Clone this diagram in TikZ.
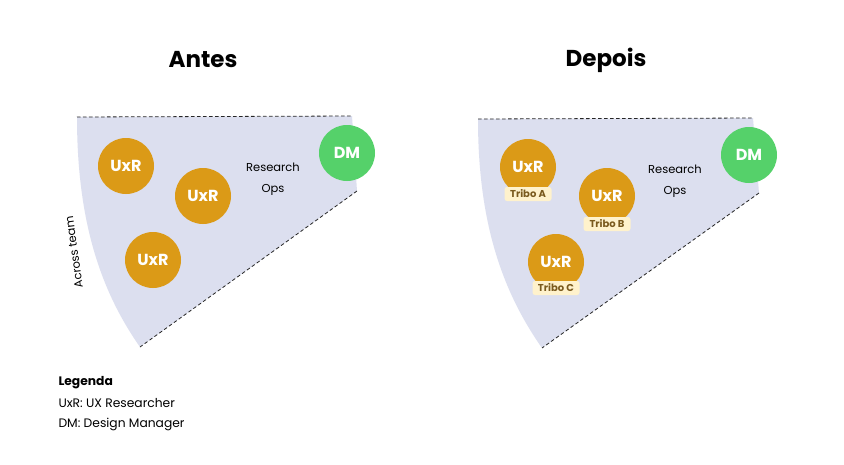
\documentclass[tikz,border=0pt]{standalone}
\usepackage{fontspec}
\setmainfont{Poppins}
\definecolor{sectorfill}{HTML}{DCDFEF}
\definecolor{uxrgold}{HTML}{DB9A17}
\definecolor{dmgreen}{HTML}{55D16A}
\definecolor{tribofill}{HTML}{FFF2CC}
\definecolor{tribotext}{HTML}{7A5A1E}
\tikzset{
  sector/.style={fill=sectorfill},
  edge/.style={draw=black!85, line width=0.8pt, dash pattern=on 3.5pt off 2.5pt},
  uxr/.style={circle, fill=uxrgold, minimum size=56pt, inner sep=0pt,
    text=white, font=\fontsize{16}{16}\selectfont\bfseries},
  dm/.style={circle, fill=dmgreen, minimum size=56pt, inner sep=0pt,
    text=white, font=\fontsize{16}{16}\selectfont\bfseries},
  tribo/.style={fill=tribofill, rounded corners=2.5pt, minimum width=47pt,
    minimum height=14pt, inner sep=0pt, text=tribotext,
    font=\fontsize{10}{10}\selectfont\bfseries},
  title/.style={font=\fontsize{23}{23}\selectfont\bfseries},
  label/.style={font=\fontsize{11.5}{21}\selectfont, align=center},
  legend/.style={font=\fontsize{12.3}{14}\selectfont, anchor=west}
}
\begin{document}
\begin{tikzpicture}[x=1pt, y=-1pt]
  \useasboundingbox[fill=white] (0,0) rectangle (844,464);

  % Left panel: Antes
  \node[title] (antes) at (203,60) {Antes};
  \coordinate (l-tl) at (77,117);
  \coordinate (l-tr) at (352,116);
  \coordinate (l-br) at (357,191);
  \coordinate (l-bl) at (140,347);
  \fill[sector] (l-tl) -- (l-tr) -- (l-br) -- (l-bl)
    .. controls (100,290) and (77,220) .. (l-tl) -- cycle;
  \draw[edge] (l-tl) -- (l-tr);
  \draw[edge] (l-br) -- (l-bl);
  \node[label, rotate=98, font=\fontsize{11.5}{14}\selectfont] (across) at (74,252) {Across team};
  \node[uxr] (l-uxr1) at (126,166) {UxR};
  \node[uxr] (l-uxr2) at (203,196) {UxR};
  \node[uxr] (l-uxr3) at (153,260) {UxR};
  \node[dm] (l-dm) at (347,153) {DM};
  \node[label] (l-ops) at (273,179) {Research\\Ops};

  % Right panel: Depois
  \node[title] (depois) at (606,60) {Depois};
  \coordinate (r-tl) at (478,119);
  \coordinate (r-tr) at (753,118);
  \coordinate (r-br) at (759,193);
  \coordinate (r-bl) at (542,348);
  \fill[sector] (r-tl) -- (r-tr) -- (r-br) -- (r-bl)
    .. controls (502,291) and (478,222) .. (r-tl) -- cycle;
  \draw[edge] (r-tl) -- (r-tr);
  \draw[edge] (r-br) -- (r-bl);
  \node[uxr] (r-uxr1) at (528,167) {UxR};
  \node[tribo] (r-triboa) at (528,194) {Tribo A};
  \node[uxr] (r-uxr2) at (607,196) {UxR};
  \node[tribo] (r-tribob) at (607,224) {Tribo B};
  \node[uxr] (r-uxr3) at (556,262) {UxR};
  \node[tribo] (r-triboc) at (556,288) {Tribo C};
  \node[dm] (r-dm) at (749,155) {DM};
  \node[label] (r-ops) at (675,181) {Research\\Ops};

  % Legend
  \node[legend, font=\fontsize{12.3}{14}\selectfont\bfseries] (leg) at (55,383) {Legenda};
  \node[legend] (leg-uxr) at (55,403) {UxR: UX Researcher};
  \node[legend] (leg-dm) at (55,424) {DM: Design Manager};
\end{tikzpicture}
\end{document}
